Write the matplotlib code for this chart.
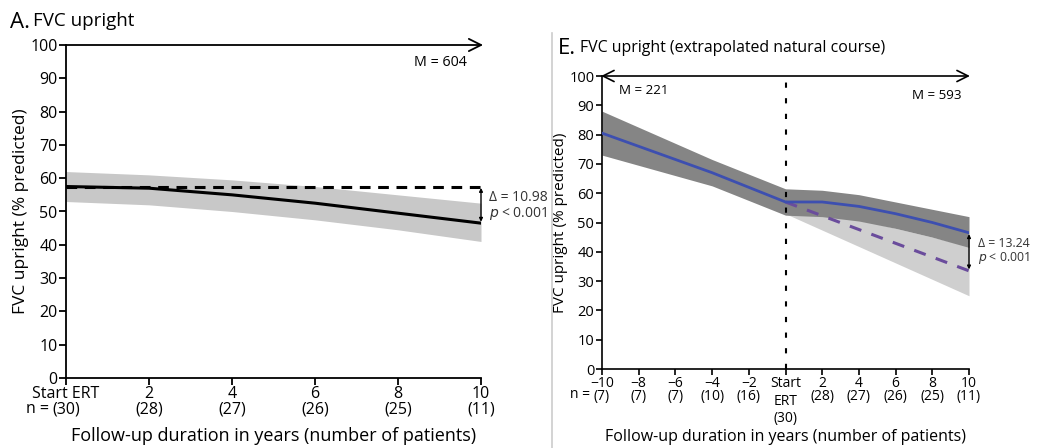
import matplotlib
matplotlib.use("Agg")
import matplotlib.pyplot as plt
import numpy as np
from matplotlib.lines import Line2D

plt.rcParams['font.family'] = ['Open Sans', 'DejaVu Sans']

# ---------------- Data: Panel A ----------------
a_years = [0, 2, 4, 6, 8, 10]
a_n = [30, 28, 27, 26, 25, 11]
a_mean = [57.5, 57.0, 55.0, 52.5, 49.5, 46.5]
a_upper = [62.0, 61.0, 59.5, 57.5, 55.0, 52.5]
a_lower = [53.0, 52.0, 50.0, 47.5, 44.5, 41.0]
a_baseline = [57.5, 57.5]
a_delta = "Δ = 10.98"
a_M = "M = 604"

# ---------------- Data: Panel E ----------------
e_years = [-10, -8, -6, -4, -2, 0, 2, 4, 6, 8, 10]
e_n = [7, 7, 7, 10, 16, 30, 28, 27, 26, 25, 11]
e_mean = [80.5, 76.0, 71.5, 67.0, 62.0, 57.0, 57.0, 55.5, 53.0, 50.0, 46.5]
e_upper = [88.0, 82.5, 77.0, 71.5, 66.5, 61.5, 61.0, 59.5, 57.0, 54.5, 52.0]
e_lower = [73.0, 69.5, 66.0, 62.5, 57.5, 52.5, 52.0, 50.5, 48.0, 45.0, 41.5]
e_nat_years = [0, 10]
e_nat_mean = [57.0, 33.5]
e_nat_upper = [57.0, 42.0]
e_nat_lower = [53.0, 25.0]
e_delta = "Δ = 13.24"
e_M_left = "M = 221"
e_M_right = "M = 593"

W, H = 1038, 448
fig = plt.figure(figsize=(W / 100, H / 100), dpi=100)


def px_axes(x0, x1, ytop, ybot):
    return fig.add_axes([x0 / W, (H - ybot) / H, (x1 - x0) / W, (ybot - ytop) / H])


# ================= Panel A =================
ax = px_axes(66, 481, 45, 378)
ax.fill_between(a_years, a_lower, a_upper, color='#c8c8c8', lw=0, zorder=1)
ax.plot(a_years, a_mean, color='black', lw=2.2, zorder=3)
ax.plot([a_years[0], a_years[-1]], a_baseline, color='black', lw=2.2, ls=(0, (3.5, 2.5)), zorder=3)
ax.set_xlim(0, 10)
ax.set_ylim(0, 100)
for s in ['top', 'right']:
    ax.spines[s].set_visible(False)
for s in ['left', 'bottom']:
    ax.spines[s].set_linewidth(1.3)
ax.set_yticks(range(0, 101, 10))
ax.set_xticks(a_years)
ax.set_xticklabels([("Start ERT" if y == 0 else str(y)) + f"\n({n})" for y, n in zip(a_years, a_n)],
                   linespacing=0.95)
ax.tick_params(axis='both', direction='out', length=5, width=1.3, labelsize=11.5, pad=1)
ax.set_ylabel("FVC upright (% predicted)", fontsize=12.5, labelpad=1)
ax.set_xlabel("Follow-up duration in years (number of patients)", fontsize=13, labelpad=7)
# top arrow
ax.annotate("", xy=(10.05, 100), xytext=(0, 100), xycoords='data', textcoords='data',
            arrowprops=dict(arrowstyle='->', color='black', lw=1.3, mutation_scale=22,
                            shrinkA=0, shrinkB=0), annotation_clip=False)
ax.text(9.65, 94.6, a_M, ha='right', va='center', fontsize=10.3)
ax.text(-0.4, -9.4, "n =", ha='right', va='center', fontsize=11.5, clip_on=False)
# delta arrow
ax.annotate("", xy=(10.0, a_mean[-1]), xytext=(10.0, a_baseline[-1]),
            arrowprops=dict(arrowstyle='<|-|>', color='black', lw=1.0, mutation_scale=5,
                            shrinkA=1, shrinkB=1), annotation_clip=False)
ax.text(10.2, 54.3, a_delta, ha='left', va='center', fontsize=10, color='#333333', clip_on=False)
ax.text(10.2, 49.5, r"$\it{p}$ < 0.001", ha='left', va='center', fontsize=10, color='#333333', clip_on=False)
fig.text(10 / W, 1 - 22 / H, "A.", fontsize=16, va='center', ha='left')
fig.text(33 / W, 1 - 21 / H, "FVC upright", fontsize=13.5, va='center', ha='left')

# separator
fig.add_artist(Line2D([552 / W, 552 / W], [0, 1 - 33 / H], color='#cccccc', lw=1.2))

# ================= Panel E =================
bx = px_axes(602, 969, 76, 369)
bx.fill_between(e_nat_years, e_nat_lower, e_nat_upper, color='#cfcfcf', lw=0, zorder=1)
bx.fill_between(e_years, e_lower, e_upper, color='#858585', lw=0, zorder=2)
bx.plot(e_nat_years, e_nat_mean, color='#6a4c9c', lw=2.2, ls=(0, (4, 3.5)), zorder=4)
bx.plot(e_years, e_mean, color='#3d4fb0', lw=2.0, zorder=5)
bx.axvline(0, ymin=0, ymax=1, color='black', lw=1.5, ls=(0, (2.5, 5)), zorder=3)
bx.set_xlim(-10, 10)
bx.set_ylim(0, 100)
for s in ['top', 'right']:
    bx.spines[s].set_visible(False)
for s in ['left', 'bottom']:
    bx.spines[s].set_linewidth(1.2)
bx.set_yticks(range(0, 101, 10))
bx.set_xticks(e_years)
labs = []
for y, n in zip(e_years, e_n):
    if y == 0:
        labs.append(f"Start\nERT\n({n})")
    else:
        labs.append(f"{y}".replace('-', '\u2212') + f"\n({n})")
tl = bx.set_xticklabels(labs, linespacing=0.8, va='top')
for y, t in zip(e_years, tl):
    if y == 0:
        t.set_linespacing(1.25)
bx.tick_params(axis='x', direction='out', length=4.5, width=1.2, labelsize=10, pad=0.5)
bx.tick_params(axis='y', direction='out', length=4.5, width=1.2, labelsize=10.5, pad=1)
bx.set_ylabel("FVC upright (% predicted)", fontsize=11, labelpad=1)
bx.set_xlabel("Follow-up duration in years (number of patients)", fontsize=11.5, labelpad=2)
bx.annotate("", xy=(10.05, 100), xytext=(-10.05, 100),
            arrowprops=dict(arrowstyle='<->', color='black', lw=1.2, mutation_scale=20,
                            shrinkA=0, shrinkB=0), annotation_clip=False)
bx.text(-9.1, 95.2, e_M_left, ha='left', va='center', fontsize=9.6)
bx.text(9.6, 93.5, e_M_right, ha='right', va='center', fontsize=9.6)
bx.text(-10.65, -8.6, "n =", ha='right', va='center', fontsize=10, clip_on=False)
bx.annotate("", xy=(10.0, e_nat_mean[-1]), xytext=(10.0, e_mean[-1]),
            arrowprops=dict(arrowstyle='<|-|>', color='black', lw=1.0, mutation_scale=5,
                            shrinkA=1, shrinkB=1), annotation_clip=False)
bx.text(10.5, 42.7, e_delta, ha='left', va='center', fontsize=8.8, color='#333333', clip_on=False)
bx.text(10.5, 37.9, r"$\it{p}$ < 0.001", ha='left', va='center', fontsize=8.8, color='#333333', clip_on=False)
fig.text(558 / W, 1 - 49 / H, "E.", fontsize=16, va='center', ha='left')
fig.text(580 / W, 1 - 48 / H, "FVC upright (extrapolated natural course)", fontsize=11.4, va='center', ha='left')

fig.savefig("out.png", dpi=100)
